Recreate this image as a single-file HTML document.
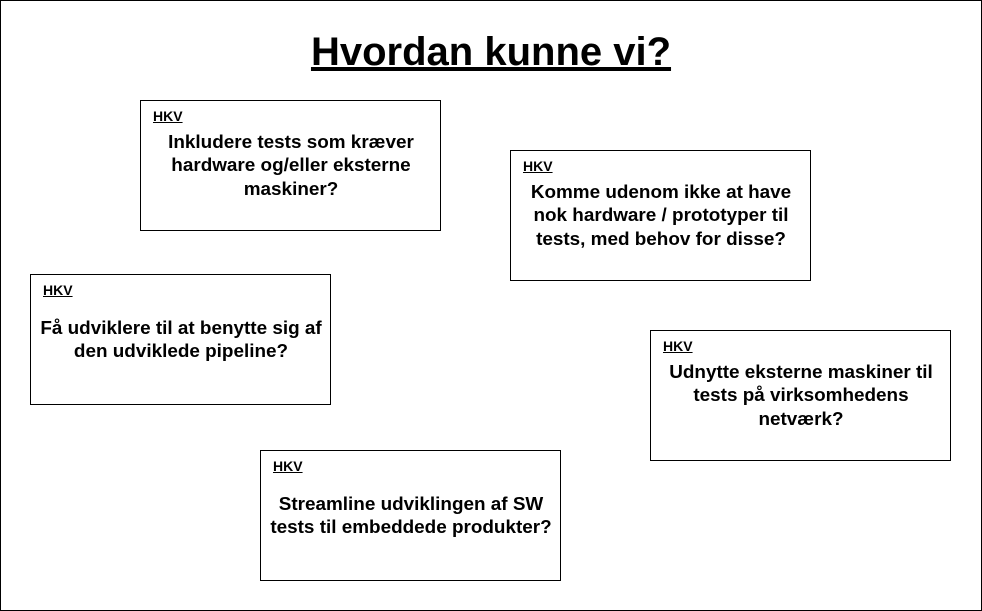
<!DOCTYPE html>
<html><head><meta charset="utf-8"><style>
body{margin:0;width:982px;height:611px;position:relative;background:#fff;font-family:"Liberation Sans",Arial,sans-serif;overflow:hidden}
.frame{position:absolute;left:0;top:0;width:980px;height:609px;border:1px solid #000}
.title{position:absolute;left:0;width:982px;top:30px;text-align:center;font-weight:bold;font-size:40px;text-decoration:underline}
.b{position:absolute;width:299px;height:129px;border:1px solid #000;background:#fff}
.h{position:absolute;left:12px;top:7px;font-weight:bold;font-size:14px;text-decoration:underline}
.t{position:absolute;left:-10px;width:320px;text-align:center;font-weight:bold;font-size:18.9px;line-height:23.4px}
</style></head><body>
<div class="frame"></div>
<div class="title">Hvordan kunne vi?</div>
<div class="b" style="left:140px;top:100px"><div class="h">HKV</div><div class="t" style="top:30px">Inkludere tests som kræver<br>hardware og/eller eksterne<br>maskiner?</div></div>
<div class="b" style="left:510px;top:150px"><div class="h">HKV</div><div class="t" style="top:30px">Komme udenom ikke at have<br>nok hardware / prototyper til<br>tests, med behov for disse?</div></div>
<div class="b" style="left:30px;top:274px"><div class="h">HKV</div><div class="t" style="top:42px">Få udviklere til at benytte sig af<br>den udviklede pipeline?</div></div>
<div class="b" style="left:650px;top:330px"><div class="h">HKV</div><div class="t" style="top:30px">Udnytte eksterne maskiner til<br>tests på virksomhedens<br>netværk?</div></div>
<div class="b" style="left:260px;top:450px"><div class="h">HKV</div><div class="t" style="top:42px">Streamline udviklingen af SW<br>tests til embeddede produkter?</div></div>
</body></html>
